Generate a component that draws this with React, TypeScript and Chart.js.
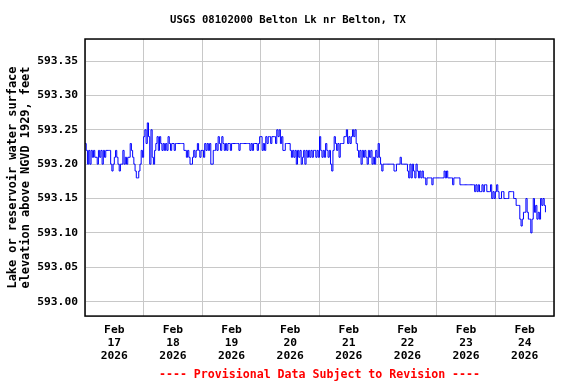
import { useEffect, useRef } from 'react';
import { Chart, registerables } from 'chart.js';

Chart.register(...registerables);

const TITLE = 'USGS 08102000 Belton Lk nr Belton, TX';
const FOOTER = '---- Provisional Data Subject to Revision ----';
const Y_TITLE = ['Lake or reservoir water surface', 'elevation above NGVD 1929, feet'];
const MONTH = 'Feb';
const YEAR = '2026';
const DAY_LABELS = ['17', '18', '19', '20', '21', '22', '23', '24'];
const Y_TICKS = [593.0, 593.05, 593.1, 593.15, 593.2, 593.25, 593.3, 593.35];
const Y_MIN = 592.979;
const Y_MAX = 593.382;
const STEP_HOURS = 0.5;

// gage height readings, every 30 minutes from midnight of each day
const feb17 = [593.23, 593.22, 593.2, 593.22, 593.2, 593.22, 593.21, 593.22, 593.21, 593.21, 593.2, 593.22, 593.21, 593.22, 593.2, 593.22, 593.21, 593.22, 593.22, 593.22, 593.22, 593.2, 593.19, 593.2, 593.21, 593.22, 593.21, 593.2, 593.19, 593.2, 593.2, 593.22, 593.2, 593.21, 593.2, 593.21, 593.21, 593.23, 593.22, 593.21, 593.2, 593.19, 593.18, 593.18, 593.19, 593.2, 593.22, 593.21];
const feb18 = [593.24, 593.25, 593.23, 593.26, 593.24, 593.2, 593.25, 593.21, 593.2, 593.22, 593.23, 593.24, 593.22, 593.24, 593.23, 593.22, 593.23, 593.22, 593.23, 593.22, 593.24, 593.23, 593.22, 593.23, 593.23, 593.22, 593.23, 593.23, 593.23, 593.23, 593.23, 593.23, 593.23, 593.22, 593.22, 593.21, 593.22, 593.21, 593.2, 593.2, 593.21, 593.22, 593.21, 593.22, 593.23, 593.22, 593.21, 593.22];
const feb19 = [593.22, 593.21, 593.23, 593.22, 593.23, 593.22, 593.23, 593.2, 593.2, 593.22, 593.22, 593.23, 593.22, 593.24, 593.23, 593.22, 593.24, 593.23, 593.22, 593.23, 593.22, 593.23, 593.23, 593.22, 593.23, 593.23, 593.23, 593.23, 593.23, 593.23, 593.22, 593.23, 593.23, 593.23, 593.23, 593.23, 593.23, 593.23, 593.23, 593.22, 593.23, 593.22, 593.23, 593.23, 593.23, 593.22, 593.23, 593.24];
const feb20 = [593.24, 593.22, 593.23, 593.22, 593.24, 593.23, 593.24, 593.24, 593.23, 593.24, 593.24, 593.24, 593.23, 593.25, 593.24, 593.25, 593.23, 593.24, 593.22, 593.22, 593.23, 593.23, 593.23, 593.23, 593.22, 593.21, 593.22, 593.21, 593.22, 593.2, 593.22, 593.21, 593.22, 593.2, 593.21, 593.22, 593.2, 593.22, 593.21, 593.22, 593.21, 593.22, 593.21, 593.22, 593.22, 593.21, 593.22, 593.21];
const feb21 = [593.24, 593.22, 593.21, 593.22, 593.21, 593.23, 593.22, 593.21, 593.22, 593.2, 593.19, 593.22, 593.24, 593.23, 593.22, 593.23, 593.21, 593.23, 593.23, 593.23, 593.24, 593.24, 593.25, 593.23, 593.24, 593.23, 593.24, 593.25, 593.24, 593.25, 593.23, 593.22, 593.21, 593.22, 593.2, 593.22, 593.21, 593.22, 593.21, 593.2, 593.22, 593.21, 593.22, 593.2, 593.21, 593.2, 593.22, 593.21];
const feb22 = [593.23, 593.21, 593.2, 593.19, 593.2, 593.2, 593.2, 593.2, 593.2, 593.2, 593.2, 593.2, 593.2, 593.19, 593.19, 593.2, 593.2, 593.2, 593.21, 593.2, 593.2, 593.2, 593.2, 593.2, 593.19, 593.18, 593.2, 593.18, 593.2, 593.19, 593.18, 593.2, 593.19, 593.18, 593.19, 593.18, 593.19, 593.18, 593.18, 593.17, 593.18, 593.18, 593.18, 593.18, 593.17, 593.18, 593.18, 593.18];
const feb23 = [593.18, 593.18, 593.18, 593.18, 593.18, 593.18, 593.19, 593.18, 593.19, 593.18, 593.18, 593.18, 593.18, 593.17, 593.18, 593.18, 593.18, 593.18, 593.18, 593.17, 593.17, 593.17, 593.17, 593.17, 593.17, 593.17, 593.17, 593.17, 593.17, 593.17, 593.17, 593.16, 593.17, 593.16, 593.17, 593.16, 593.16, 593.17, 593.16, 593.17, 593.17, 593.16, 593.16, 593.16, 593.17, 593.15, 593.16, 593.15];
const feb24 = [593.16, 593.17, 593.16, 593.15, 593.15, 593.16, 593.16, 593.15, 593.15, 593.15, 593.15, 593.16, 593.16, 593.16, 593.16, 593.15, 593.15, 593.14, 593.14, 593.14, 593.12, 593.11, 593.12, 593.13, 593.13, 593.15, 593.13, 593.12, 593.12, 593.1, 593.12, 593.15, 593.13, 593.14, 593.12, 593.13, 593.12, 593.15, 593.14, 593.15, 593.14, 593.13];

const DAYS = [feb17, feb18, feb19, feb20, feb21, feb22, feb23, feb24];

const FONT = "'DejaVu Sans Mono', 'Liberation Mono', monospace";
const GRID = '#c8c8c8';

const framePlugin = {
  id: 'frame',
  afterDraw(chart: any) {
    const { ctx, chartArea } = chart;
    ctx.save();
    ctx.strokeStyle = '#000000';
    ctx.lineWidth = 1.5;
    ctx.strokeRect(chartArea.left, chartArea.top, chartArea.right - chartArea.left, chartArea.bottom - chartArea.top);
    ctx.restore();
  },
};

export default function App() {
  const ref = useRef<HTMLCanvasElement | null>(null);

  useEffect(() => {
    if (!ref.current) return;
    const points = DAYS.flatMap((arr, d) => arr.map((v, i) => ({ x: d * 24 + i * STEP_HOURS, y: v })));
    const xTicks: number[] = [];
    for (let d = 0; d <= DAY_LABELS.length; d++) {
      xTicks.push(d * 24);
      if (d < DAY_LABELS.length) xTicks.push(d * 24 + 12);
    }
    const chart = new Chart(ref.current, {
      type: 'line',
      data: {
        datasets: [
          {
            data: points,
            borderColor: '#0000ff',
            borderWidth: 1,
            pointRadius: 0,
            stepped: true,
            fill: false,
          },
        ],
      },
      plugins: [framePlugin],
      options: {
        animation: false,
        responsive: false,
        devicePixelRatio: 1,
        layout: { padding: { left: 0, right: 0, top: 0, bottom: 0 } },
        plugins: {
          legend: { display: false },
          tooltip: { enabled: false },
          title: {
            display: true,
            text: TITLE,
            color: '#000000',
            font: { family: FONT, size: 10.6, weight: 'bold', lineHeight: 1.2 },
            padding: { top: 13.6, bottom: 12.7 },
          },
          subtitle: {
            display: true,
            text: FOOTER,
            position: 'bottom',
            fullSize: false,
            color: '#ff0000',
            font: { family: FONT, size: 11.6, weight: 'bold', lineHeight: 1.2 },
            padding: { top: 2, bottom: 2 },
          },
        },
        scales: {
          x: {
            type: 'linear',
            min: 0,
            max: DAY_LABELS.length * 24,
            afterBuildTicks: (scale: any) => {
              scale.ticks = xTicks.map((v) => ({ value: v }));
            },
            afterFit: (scale: any) => {
              scale.height = 50;
            },
            grid: {
              color: (ctx: any) => (ctx.tick && ctx.tick.value % 24 === 0 ? GRID : 'rgba(0,0,0,0)'),
              lineWidth: 1,
              drawTicks: false,
            },
            border: { display: false },
            ticks: {
              autoSkip: false,
              maxRotation: 0,
              padding: 7.5,
              color: '#000000',
              font: { family: FONT, size: 11.3, weight: 'bold', lineHeight: 1.15 },
              callback: (value: any) => {
                const v = Number(value);
                if (v % 24 !== 12) return '';
                return [MONTH, DAY_LABELS[(v - 12) / 24], YEAR];
              },
            },
          },
          y: {
            type: 'linear',
            min: Y_MIN,
            max: Y_MAX,
            afterBuildTicks: (scale: any) => {
              scale.ticks = Y_TICKS.map((v) => ({ value: v }));
            },
            afterFit: (scale: any) => {
              scale.width = 85;
            },
            grid: { color: GRID, lineWidth: 1, drawTicks: false },
            border: { display: false },
            ticks: {
              padding: 7,
              color: '#000000',
              font: { family: FONT, size: 11.3, weight: 'bold' },
              callback: (value: any) => Number(value).toFixed(2),
            },
            title: {
              display: true,
              text: Y_TITLE,
              color: '#000000',
              font: { family: FONT, size: 11.9, weight: 'bold', lineHeight: 1.1 },
              padding: { top: 6.5, bottom: 0 },
            },
          },
          yRight: {
            type: 'linear',
            position: 'right',
            display: true,
            min: Y_MIN,
            max: Y_MAX,
            afterFit: (scale: any) => {
              scale.width = 22;
            },
            grid: { display: false, drawTicks: false },
            border: { display: false },
            ticks: { display: false },
          },
        },
      },
    });
    return () => chart.destroy();
  }, []);

  return (
    <div style={{ position: 'absolute', left: 0, top: 0, width: 576, height: 384, background: '#ffffff' }}>
      <canvas ref={ref} width={576} height={384} style={{ display: 'block', width: 576, height: 384 }} />
    </div>
  );
}
